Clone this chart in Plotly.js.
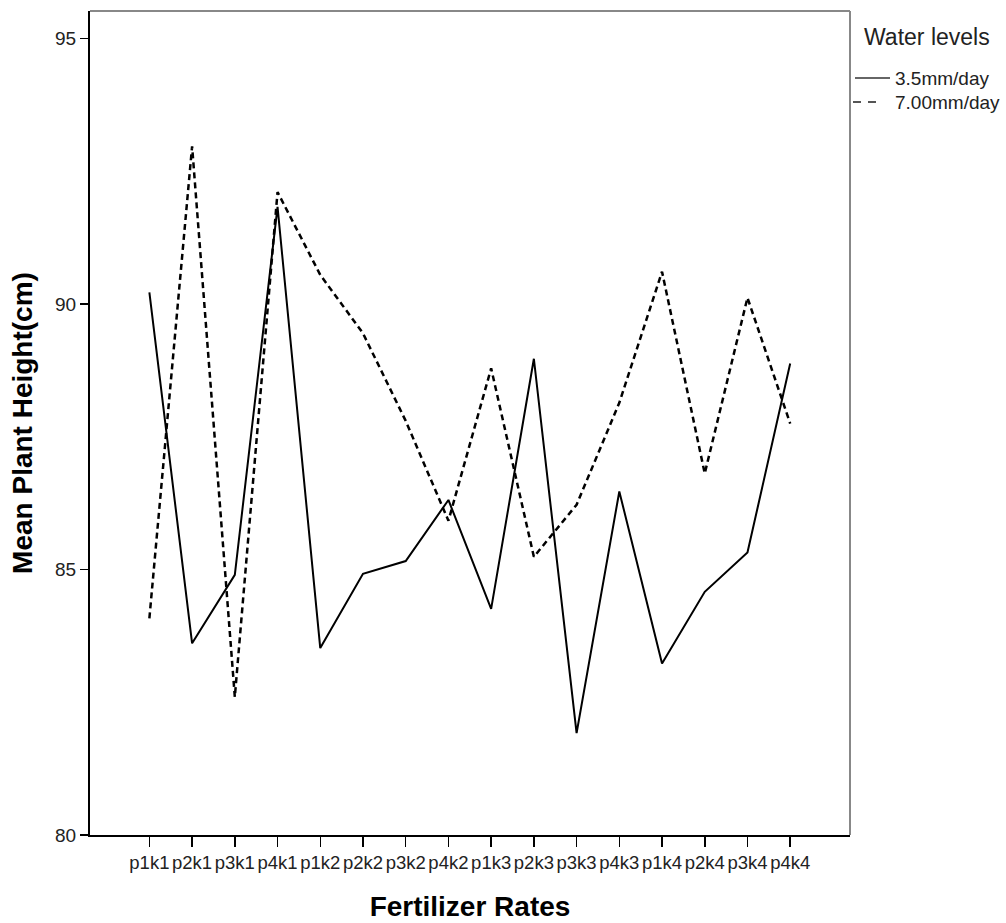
<!DOCTYPE html>
<html>
<head>
<meta charset="utf-8">
<script src="https://cdn.plot.ly/plotly-3.0.1.min.js"></script>
<style>html,body{margin:0;padding:0;background:#fff;}#chart{width:1006px;height:923px;}</style>
</head>
<body>
<div id="chart"></div>
<script>
var categories = ["p1k1","p2k1","p3k1","p4k1","p1k2","p2k2","p3k2","p4k2","p1k3","p2k3","p3k3","p4k3","p1k4","p2k4","p3k4","p4k4"];
var water35 = [90.22, 83.61, 84.90, 91.83, 83.52, 84.92, 85.16, 86.31, 84.26, 88.97, 81.92, 86.47, 83.23, 84.58, 85.32, 88.88];
var water70 = [84.08, 92.97, 82.60, 92.11, 90.55, 89.45, 87.80, 85.92, 88.79, 85.24, 86.22, 88.14, 90.61, 86.81, 90.12, 87.75];
var seriesNames = ["3.5mm/day", "7.00mm/day"];
var legendTitle = "Water levels";
var yTicks = [80, 85, 90, 95];

var font = "Liberation Sans, Arial, sans-serif";
var traces = [
  {x: categories, y: water35, type: "scatter", mode: "lines", name: seriesNames[0], showlegend: false,
   line: {color: "#000", width: 2}},
  {x: categories, y: water70, type: "scatter", mode: "lines", name: seriesNames[1], showlegend: false,
   line: {color: "#000", width: 2.5, dash: "6px,4px"}}
];

// legend drawn in paper coordinates (plot area: 760 x 824 px)
function px(xp) { return (xp - 90) / 760; }
function py(yp) { return (835 - yp) / 824; }

var layout = {
  width: 1006, height: 923,
  margin: {l: 90, r: 156, t: 11, b: 88},
  paper_bgcolor: "#fff", plot_bgcolor: "#fff",
  font: {family: font, color: "#222"},
  showlegend: false,
  xaxis: {
    type: "category", range: [-1.39, 16.4],
    showgrid: false, zeroline: false,
    showline: true, linecolor: "#000", linewidth: 2,
    ticks: "outside", ticklen: 10, tickwidth: 1.5, tickcolor: "#000",
    tickangle: 0,
    tickfont: {size: 18.5, color: "#222", family: font},
    title: {text: "Fertilizer Rates", font: {size: 28, color: "#000", family: font, weight: "bold"}, standoff: 24}
  },
  yaxis: {
    range: [80, 95.52], tickvals: yTicks, ticktext: yTicks.map(String),
    showgrid: false, zeroline: false,
    showline: true, linecolor: "#000", linewidth: 2,
    ticks: "outside", ticklen: 8, tickwidth: 1.5, tickcolor: "#000",
    tickfont: {size: 19, color: "#222", family: font},
    title: {text: "Mean Plant Height(cm)", font: {size: 28, color: "#000", family: font, weight: "bold"}, standoff: 14}
  },
  shapes: [
    {type: "line", xref: "paper", yref: "paper", x0: 0, x1: 1, y0: 1, y1: 1, line: {color: "#888", width: 2}},
    {type: "line", xref: "paper", yref: "paper", x0: 1, x1: 1, y0: 0, y1: 1, line: {color: "#888", width: 2}},
    {type: "line", xref: "paper", yref: "paper", x0: px(855), x1: px(890), y0: py(78), y1: py(78), line: {color: "#666", width: 2}},
    {type: "line", xref: "paper", yref: "paper", x0: px(853), x1: px(882), y0: py(102), y1: py(102), line: {color: "#555", width: 2, dash: "8px,7px"}}
  ],
  annotations: [
    {text: legendTitle, xref: "paper", yref: "paper", x: px(862), y: py(37), xanchor: "left", yanchor: "middle",
     showarrow: false, font: {size: 23, color: "#222", family: font}},
    {text: seriesNames[0], xref: "paper", yref: "paper", x: px(893), y: py(78), xanchor: "left", yanchor: "middle",
     showarrow: false, font: {size: 19, color: "#222", family: font}},
    {text: seriesNames[1], xref: "paper", yref: "paper", x: px(893), y: py(102), xanchor: "left", yanchor: "middle",
     showarrow: false, font: {size: 19, color: "#222", family: font}}
  ]
};

Plotly.newPlot("chart", traces, layout, {displayModeBar: false, staticPlot: true});
</script>
</body>
</html>
